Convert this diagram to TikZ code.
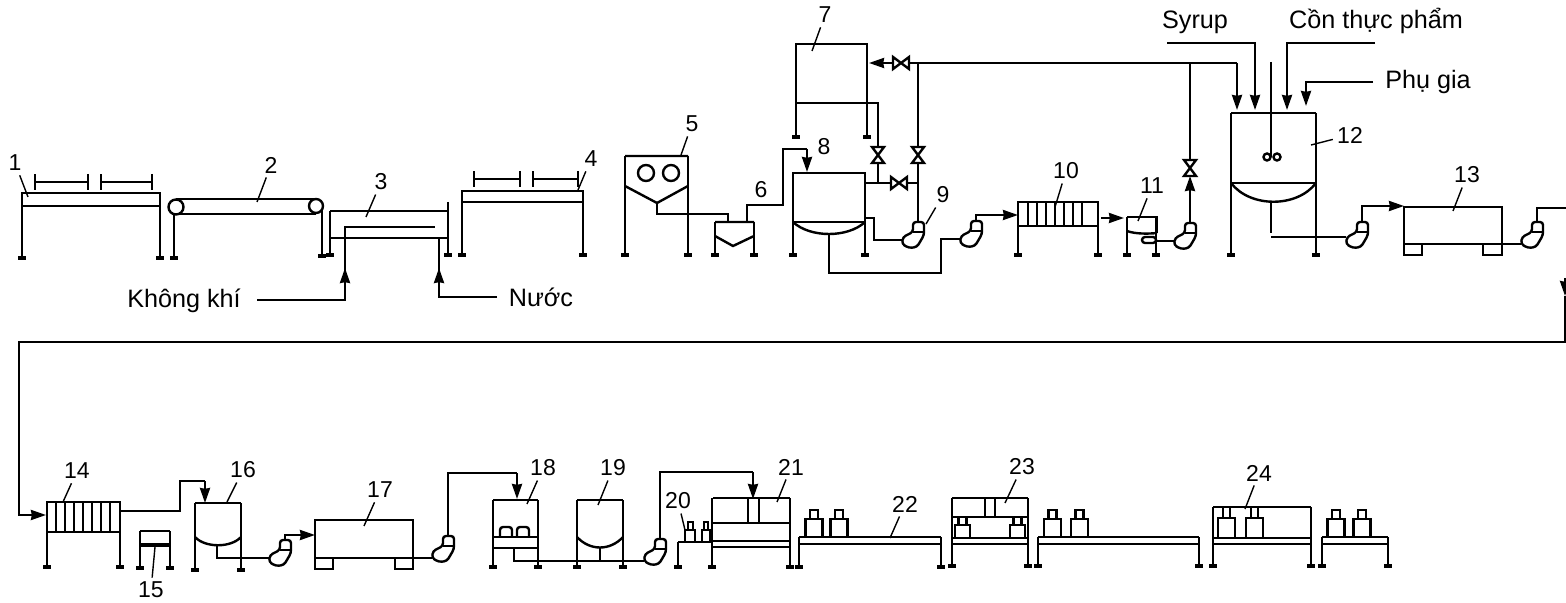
\documentclass[tikz,border=0pt]{standalone}
\usepackage{fontspec}
\setsansfont{Liberation Sans}
\usetikzlibrary{arrows.meta}
\tikzset{
  pipe/.style={line width=1.2pt, line join=miter},
  flow/.style={pipe, -{Stealth[length=7.5pt,width=5pt,inset=0.4pt]}},
  lead/.style={line width=0.7pt},
  num/.style={font=\sffamily\fontsize{11.5}{12}\selectfont, inner sep=2pt},
  txt/.style={font=\sffamily\fontsize{12.6}{13}\selectfont, inner sep=2pt},
  foot/.style={line width=1.7pt},
  tick/.style={pipe, {Bar[width=8pt]}-{Bar[width=8pt]}},
  pump/.pic={
    \draw[pipe, rounded corners=1.5pt] (0,-13) -- (11,-13) -- (11,0) -- (4,12) -- (-4,13) -- (-11,9) -- (-10,2) -- (0,-3) -- cycle;
    \draw[pipe] (0,-3) -- (11,-3);
    \coordinate (-in) at (-11,5);
    \coordinate (-top) at (5,-13);
  },
  valve/.pic={
    \draw[pipe, fill=white] (-8,-6) -- (8,6) -- (8,-6) -- (-8,6) -- cycle;
  }
}
\begin{document}
\begin{tikzpicture}[x=0.5pt, y=-0.5pt, >=Stealth]
\useasboundingbox (0,0) rectangle (1566,603);

% --- LEGS WITH FEET ---
\foreach \x/\t/\b in {22/193/258, 160/193/258, 174/214/258, 322/206/256, 330/211/255, 448/202/255, 462/191/255, 583/191/255,
    625/156/255, 688/156/255, 715/222/255, 754/222/255, 796/44/137, 867/44/137, 793/173/255, 865/173/255, 1018/202/255, 1098/202/255,
    1127/217/255, 1156/217/255, 1231/113/255, 1316/113/255,
    47/502/567, 120/502/567, 140/531/568, 170/531/568, 195/503/570, 241/503/570, 493/500/567, 538/500/567, 577/500/567, 623/500/567,
    678/542/567, 712/498/567, 790/498/567, 799/537/567, 941/537/567, 952/498/566, 1028/498/566, 1038/537/566, 1199/537/566,
    1213/507/566, 1311/507/566, 1322/537/566, 1388/537/566} {
  \draw[pipe] (\x,\t) -- (\x,\b);
  \draw[foot] (\x-4,\b) -- (\x+4,\b);
}

% --- LINE ONE: TABLES, BELT, WASHER ---
\draw[pipe] (22,193) rectangle (160,206);
\draw[pipe] (462,191) rectangle (583,202);
\foreach \a/\b/\y in {34/89/182, 100/153/182, 473/521/179, 532/579/179}
  \draw[tick] (\a,\y) -- (\b,\y);

\draw[pipe] (176,199) -- (316,199) (176,214) -- (316,214);
\draw[pipe, fill=white] (176,207) circle (7.5) (316,206) circle (7);

\draw[pipe] (330,211) -- (448,211) (330,238) -- (448,238);
\coordinate (airin) at (257,300);
\coordinate (waterin) at (497,297);
\draw[pipe] (airin) -| (345,227) -- (435,227);
\draw[flow] (345,300) -- (345,268);
\draw[pipe] (waterin) -| (439,238);
\draw[flow] (439,297) -- (439,268);
\node[txt] (air) at (184,301) {Không khí};
\node[txt] (water) at (541,297) {Nước};

% --- HOPPER 5 AND 6 ---
\draw[pipe] (625,156) -- (688,156) (625,186) -- (657,203) -- (688,186);
\draw[pipe] (646,173) circle (8) (671,173) circle (8);
\draw[pipe] (657,203) |- (728,214) -- (728,222);
\draw[pipe] (715,222) -- (754,222) (715,236) -- (733,246) -- (754,236);
\draw[pipe] (747,222) |- (783,205) |- (807,149);
\draw[flow] (807,149) -- (807,172);

% --- TANKS 7 AND 8 ---
\draw[pipe] (796,44) rectangle (867,103);
\draw[pipe] (867,103) -| (878,183);
\draw[pipe] (793,173) rectangle (865,222);
\draw[pipe] (793,222) .. controls (810,238) and (848,238) .. (865,222);
\draw[pipe] (865,183) -- (918,183);
\pic (pumpnine) at (913,235) {pump};
\draw[pipe] (pumpnine-top) -- (918,63);
\draw[flow] (1237,63) -- (869,63);
\pic at (901,63) {valve};
\pic at (899,183) {valve};
\pic[rotate=90] at (878,155) {valve};
\pic[rotate=90] at (918,155) {valve};

% --- PUMPS AND PIPES OF LINE ONE ---
\draw[pipe] (865,218) -| (874,240) -- (pumpnine-in);
\pic (pumpten) at (971,234) {pump};
\draw[pipe] (829,235) |- (941,273) |- (pumpten-in);
\draw[pipe] (pumpten-top) |- (990,215);
\draw[flow] (990,215) -- (1018,215);
\draw[pipe] (1018,202) rectangle (1098,226);
\foreach \x in {1028,1037,...,1090} \draw[pipe] (\x,202) -- (\x,226);
\draw[flow] (1101,218) -- (1124,218);

% --- 11 ---
\draw[pipe] (1127,217) -- (1157,217) -- (1157,233);
\draw[pipe] (1127,231) .. controls (1135,234) and (1148,234) .. (1157,233);
\draw[pipe, rounded corners=1.5pt] (1142,237) rectangle (1156,243);
\pic (pumpelv) at (1185,236) {pump};
\draw[pipe] (1156,241) -- (pumpelv-in);
\draw[flow] (pumpelv-top) -- (1190,176);
\draw[pipe] (1190,176) -- (1190,63);
\pic[rotate=90] at (1190,168) {valve};

% --- TANK 12 ---
\draw[pipe] (1231,113) -- (1316,113) (1231,183) -- (1316,183);
\draw[pipe] (1231,183) .. controls (1250,208) and (1297,208) .. (1316,183);
\draw[pipe] (1271,62) -- (1271,157);
\draw[pipe] (1267,157) circle (3.5) (1277,157) circle (3.5);
\draw[pipe] (1271,202) -- (1271,233);
\coordinate (syrupin) at (1167,43);
\coordinate (alcoholin) at (1375,43);
\coordinate (addin) at (1373,82);
\draw[flow] (1237,63) -- (1237,110);
\draw[flow] (syrupin) -| (1255,110);
\draw[flow] (alcoholin) -| (1287,110);
\draw[flow] (addin) -| (1306,106);
\node[txt] (syrup) at (1195,22) {Syrup};
\node[txt] (alcohol) at (1376,21) {Cồn thực phẩm};
\node[txt] (additive) at (1428,82) {Phụ gia};

% --- FILTER 13 AND RETURN PIPE ---
\pic (pumptwelve) at (1357,235) {pump};
\draw[pipe] (1271,237) -- (pumptwelve-in |- 0,237);
\draw[pipe] (pumptwelve-top) |- (1385,206);
\draw[flow] (1385,206) -- (1404,206);
\draw[pipe] (1404,207) rectangle (1502,244);
\draw[pipe] (1404,244) rectangle (1422,255) (1483,244) rectangle (1502,255);
\pic (pumpthirteen) at (1532,235) {pump};
\draw[pipe] (1502,244) -- (pumpthirteen-in |- 0,244);
\draw[pipe] (pumpthirteen-top) |- (1567,208);
\draw[flow] (1565,278) -- (1565,296);
\draw[pipe] (1565,296) -- (1565,342) -- (19,342) |- (35,515);
\draw[flow] (30,515) -- (46,515);

% --- LINE TWO ---
\draw[pipe] (47,502) rectangle (120,532);
\foreach \x in {56,65,...,115} \draw[pipe] (\x,502) -- (\x,532);
\draw[pipe] (120,511) -| (180,481) -- (205,481);
\draw[flow] (205,481) -- (205,503);
\draw[pipe] (140,531) -- (170,531);
\draw[pipe, line width=2pt] (140,545) -- (170,545);
\draw[pipe] (195,503) -- (241,503);
\draw[pipe] (195,537) .. controls (205,548) and (231,548) .. (241,537);
\pic (pumpsixteen) at (280,553) {pump};
\draw[pipe] (217,545) |- (pumpsixteen-in);
\draw[pipe] (pumpsixteen-top) |- (296,535);
\draw[flow] (296,535) -- (315,535);
\draw[pipe] (315,520) rectangle (413,558);
\draw[pipe] (315,558) rectangle (333,569) (395,558) rectangle (413,569);
\pic (pumpseventeen) at (443,549) {pump};
\draw[pipe] (413,558) -- (pumpseventeen-in |- 0,558);
\draw[pipe] (pumpseventeen-top) |- (517,473);
\draw[flow] (517,473) -- (517,499);

% --- FILLING AND TABLES ---
\draw[pipe] (493,500) -- (538,500) (493,537) -- (538,537) (493,548) -- (538,548);
\draw[pipe, rounded corners=1.5pt] (500,537) |- (512,527) -- (512,537) (517,537) |- (529,527) -- (529,537);
\pic (pumpnineteen) at (655,552) {pump};
\draw[pipe] (514,548) |- (pumpnineteen-in |- 0,561);
\draw[pipe] (577,500) -- (623,500);
\draw[pipe] (577,537) .. controls (590,551) and (610,551) .. (623,537);
\draw[pipe] (600,547) -- (600,561);
\draw[pipe] (pumpnineteen-top) |- (753,472);
\draw[flow] (753,472) -- (753,499);

\draw[pipe] (678,542) -- (712,542);
\draw[pipe] (685,530) rectangle (695,542) (688,522) rectangle (693,530);
\draw[pipe] (702,530) rectangle (710,542) (704,522) rectangle (708,530);
\draw[pipe] (713,498) -- (790,498) (713,523) -- (790,523) (713,541) -- (790,541) (713,547) -- (790,547);
\draw[pipe] (748,498) -- (748,523) (759,498) -- (759,523);

\foreach \a/\b in {799/941, 1038/1199, 1322/1388}
  \draw[pipe] (\a,537) -- (\b,537) (\a,544) -- (\b,544);
\foreach \a/\b in {952/1028, 1213/1311}
  \draw[pipe] (\a,538) -- (\b,538) (\a,544) -- (\b,544);
\draw[pipe] (952,498) -- (1028,498) (952,517) -- (1028,517);
\draw[pipe] (985,498) -- (985,517) (995,498) -- (995,517);
\draw[pipe] (1213,507) -- (1311,507);

% --- BOTTLES ---
\foreach \x in {814, 839, 1052.5, 1079.5, 1336, 1362} {
  \draw[pipe] (\x-8.5,537) rectangle (\x+8.5,519);
  \draw[pipe] (\x-4,519) rectangle (\x+4,510);
}
\foreach \x in {962.5, 1017.5} {
  \draw[pipe] (\x-7.5,538) rectangle (\x+7.5,525);
  \draw[pipe] (\x-4,525) rectangle (\x+4,517);
}
\foreach \x in {1226.5, 1254.5} {
  \draw[pipe] (\x-8.5,538) rectangle (\x+8.5,518);
  \draw[pipe] (\x-3.5,518) rectangle (\x+3.5,507);
}

% --- LABELS ---
\foreach \i/\xa/\ya/\xb/\yb in {1/15/163/28/197, 2/271/165/257/202, 3/381/182/366/217, 4/591/159/578/190, 5/692/124/681/155,
    7/825/15/812/51, 9/943/195/926/224, 10/1066/171/1055/207, 11/1152/186/1138/221, 12/1350/135/1311/145, 13/1467/175/1453/211,
    14/77/471/63/502, 15/151/590/155/547, 16/243/470/227/502, 17/380/490/364/526, 18/543/468/527/504, 19/613/468/598/505,
    20/678/501/685/530, 21/791/467/777/502, 22/905/504/890/538, 23/1022/467/1005/503, 24/1259/473/1245/509} {
  \node[num] (n\i) at (\xa,\ya) {\i};
  \draw[lead] (n\i) -- (\xb,\yb);
}
\node[num] (n6) at (761,190) {6};
\node[num] (n8) at (824,147) {8};

\end{tikzpicture}
\end{document}
